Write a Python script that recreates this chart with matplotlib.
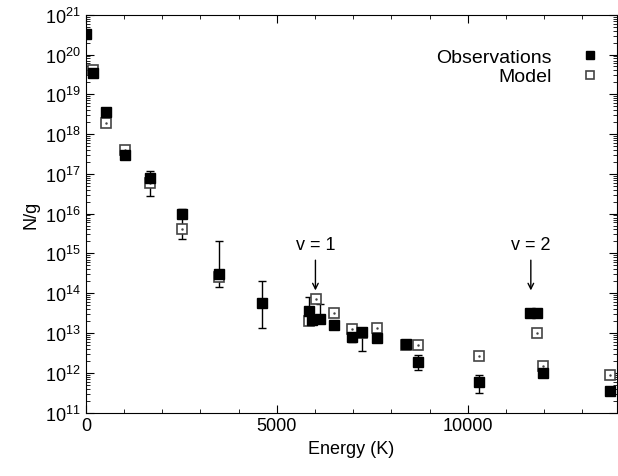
import matplotlib.pyplot as plt
import matplotlib.ticker as mticker
import numpy as np

plt.rcParams['font.family'] = ['Liberation Sans', 'DejaVu Sans']

# observations
obs_e = [0, 183, 524, 1020, 1675, 2513, 3482, 4607, 5838, 5930, 6125, 6492,
         6963, 7217, 7610, 8385, 8700, 10290, 11640, 11820, 11960, 13730]
obs_n = [3.3e20, 3.5e19, 3.5e18, 2.9e17, 8e16, 1e16, 3.1e14, 5.6e13, 3.5e13, 2.1e13,
         2.3e13, 1.6e13, 8e12, 1.07e13, 7.6e12, 5.4e12, 1.9e12, 6e11, 3.2e13, 3.2e13,
         9.6e11, 3.4e11]
obs_lo = [3.3e20, 3.5e19, 3.5e18, 2.9e17, 2.8e16, 2.3e15, 1.4e14, 1.3e13, 3.5e13, 2.1e13,
          2.3e13, 1.6e13, 6e12, 3.5e12, 7.6e12, 5.4e12, 1.2e12, 3.1e11, 3.2e13, 3.2e13,
          9.6e11, 3.4e11]
obs_hi = [3.3e20, 3.5e19, 3.5e18, 2.9e17, 1.2e17, 1.3e16, 2e15, 2e14, 8e13, 2.1e13,
          5.4e13, 1.6e13, 8e12, 1.07e13, 7.6e12, 5.4e12, 2.8e12, 9e11, 3.2e13, 3.2e13,
          9.6e11, 3.4e11]

# model
mod_e = [183, 524, 1020, 1675, 2513, 3482, 5838, 6013, 6492, 6963, 7217, 7610,
         8385, 8700, 10290, 11800, 11960, 13730]
mod_n = [4e19, 1.9e18, 4e17, 5.9e16, 4e15, 2.5e14, 2e13, 7e13, 3.2e13, 1.26e13, 1e13,
         1.3e13, 5e12, 4.9e12, 2.7e12, 1e13, 1.5e12, 9e11]

fig = plt.figure(figsize=(6.18, 4.77), dpi=100)
ax = fig.add_axes([0.139, 0.133, 0.859, 0.834])

obs_n = np.array(obs_n)
yerr = [obs_n - np.array(obs_lo), np.array(obs_hi) - obs_n]
ax.errorbar(obs_e, obs_n, yerr=yerr, fmt='none', ecolor='black', elinewidth=1,
            capsize=3)
ax.plot(mod_e, mod_n, 's', ms=7, mfc='white', mec='#444444', mew=1.2, label='Model')
ax.plot(mod_e, mod_n, '.', ms=1.5, color='#444444')
ax.plot(obs_e, obs_n, 's', ms=7, color='black', label='Observations')

ax.set_yscale('log')
ax.set_xlim(0, 13900)
ax.set_ylim(1e11, 1e21)
ax.set_yticks([10.0**k for k in range(11, 22)])
ax.yaxis.set_minor_locator(mticker.LogLocator(base=10, subs=np.arange(2, 10), numticks=20))
ax.yaxis.set_minor_formatter(mticker.NullFormatter())
ax.set_xticks([0, 5000, 10000])
ax.set_xticks(np.arange(0, 14000, 1000), minor=True)
ax.tick_params(which='both', direction='in', top=True, right=True, labelsize=13)
ax.tick_params(which='major', length=6)
ax.tick_params(which='minor', length=3)
ax.set_xlabel('Energy (K)', fontsize=13)
ax.set_ylabel('N/g', fontsize=13)

for x, lab in [(6010, 'v = 1'), (11650, 'v = 2')]:
    ax.annotate('', xy=(x, 10**14.0), xytext=(x, 10**14.9),
                arrowprops=dict(arrowstyle='->', color='black', lw=1))
    ax.text(x, 10**15.0, lab, ha='center', va='bottom', fontsize=13)

h, l = ax.get_legend_handles_labels()
leg = ax.legend(h[::-1], l[::-1], loc='upper right', frameon=False, markerfirst=False,
                fontsize=14, handlelength=1.5, handletextpad=1.2, labelspacing=0.1,
                bbox_to_anchor=(1.01, 0.96))
for hd in leg.legend_handles:
    hd.set_markersize(6)

fig.savefig('out.png', dpi=100)
